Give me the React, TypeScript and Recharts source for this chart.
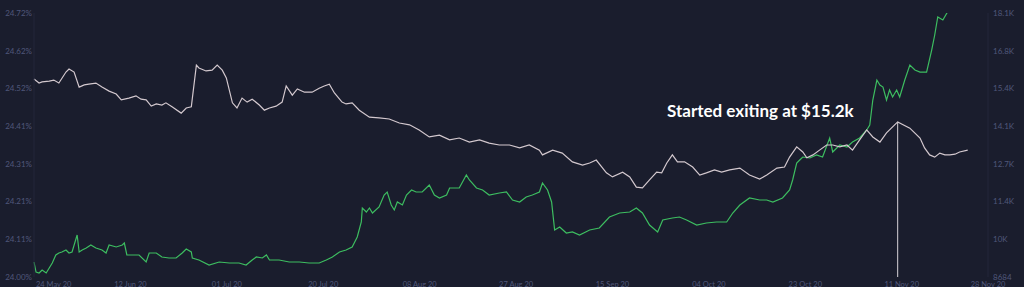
import React from "react";
import { LineChart, Line, XAxis, YAxis, ReferenceLine } from "recharts";

// x values: days since 24 May 2020
const xTickDays = [0, 19, 38, 57, 76, 95, 114, 133, 152, 171, 188];
const xTickLabels = ["24 May 20", "12 Jun 20", "01 Jul 20", "20 Jul 20", "08 Aug 20", "27 Aug 20", "15 Sep 20", "04 Oct 20", "23 Oct 20", "11 Nov 20", "28 Nov 20"];

const leftTickLabels = ["24.00%", "24.11%", "24.21%", "24.31%", "24.41%", "24.52%", "24.62%", "24.72%"];
const leftMin = 24.0;
const leftMax = 24.72;
const rightTickLabels = ["8684", "10K", "11.4K", "12.7K", "14.1K", "15.4K", "16.8K", "18.1K"];
const rightMin = 8684;
const rightMax = 18099;

// BTC price (green, right axis)
const priceDays = [0, 0.4, 1.0, 1.6, 2.4, 3.0, 3.6, 4.3, 4.9, 5.5, 6.3, 6.9, 7.5, 8.5, 8.9, 9.5, 10.3, 11.2, 12.2, 13.4, 14.2, 14.8, 16.2, 17.4, 17.8, 18.3, 19.3, 20.7, 22.1, 22.7, 24.1, 25.2, 26.6, 28.0, 29.2, 30.0, 31.0, 31.2, 32.5, 34.5, 36.5, 38.5, 40.4, 41.8, 43.0, 43.8, 45.0, 45.8, 46.4, 48.3, 50.3, 52.3, 54.2, 56.2, 57.6, 58.8, 60.2, 61.5, 62.7, 63.7, 64.5, 64.7, 65.5, 66.1, 66.7, 68.0, 69.0, 69.6, 70.4, 71.0, 71.6, 72.6, 73.4, 74.4, 75.3, 76.5, 77.9, 78.9, 79.9, 81.3, 81.9, 83.8, 85.2, 85.8, 87.2, 88.4, 89.7, 91.7, 93.1, 94.3, 95.7, 97.0, 98.2, 99.6, 100.2, 101.2, 102.0, 102.6, 103.6, 104.9, 106.1, 107.5, 109.5, 111.4, 113.4, 115.4, 117.4, 118.7, 119.9, 121.3, 122.9, 123.9, 125.8, 127.2, 128.6, 130.6, 132.5, 134.5, 136.5, 137.7, 139.1, 141.0, 143.0, 144.4, 145.6, 147.5, 148.9, 149.5, 150.3, 150.9, 151.5, 152.9, 154.2, 155.4, 156.8, 157.4, 158.8, 160.2, 161.3, 162.7, 164.1, 164.7, 165.3, 166.1, 166.7, 167.3, 168.0, 168.6, 169.2, 170.0, 170.6, 171.6, 172.6, 173.6, 174.6, 175.9, 176.9, 177.5, 178.1, 179.1, 179.9, 180.5, 181.5, 182.4, 183.0, 183.8, 184.4];
const priceValues = [9219, 8862, 8827, 8934, 8827, 9005, 9183, 9469, 9540, 9576, 9647, 9540, 9576, 10182, 9576, 9647, 9718, 9825, 9718, 9647, 9540, 9825, 9754, 9825, 9896, 9469, 9469, 9469, 9219, 9540, 9540, 9397, 9362, 9362, 9540, 9682, 9576, 9362, 9290, 9112, 9219, 9183, 9183, 9112, 9290, 9397, 9362, 9469, 9290, 9290, 9219, 9219, 9183, 9183, 9290, 9397, 9576, 9647, 9754, 10110, 10645, 11145, 11002, 11145, 10966, 11180, 11608, 11715, 11252, 11073, 11359, 11252, 11608, 11786, 11715, 11715, 11965, 11608, 11501, 11608, 11858, 11858, 12321, 12143, 11858, 11786, 11608, 11679, 11715, 11430, 11359, 11537, 11608, 11715, 12036, 11786, 11359, 10360, 10467, 10253, 10289, 10182, 10360, 10431, 10824, 10966, 11002, 11145, 10966, 10538, 10289, 10717, 10788, 10824, 10717, 10538, 10610, 10645, 10645, 10966, 11252, 11501, 11430, 11430, 11359, 11501, 11786, 12143, 12749, 12856, 12963, 12928, 13035, 12963, 13641, 13142, 13391, 13320, 13498, 13641, 13926, 14104, 14996, 15709, 15531, 15459, 14996, 15352, 15103, 15352, 15103, 15709, 16244, 16066, 15994, 15994, 16779, 17314, 17956, 17849, 18098, 18740, 18918, 18669, 18312, 18277, 18455];

// Share held (white, left axis)
const shareDays = [0, 1.0, 1.6, 3.0, 3.9, 4.9, 6.3, 6.9, 7.9, 8.9, 9.9, 10.8, 12.2, 13.4, 14.8, 16.2, 17.2, 18.7, 20.1, 21.1, 22.1, 23.1, 24.1, 25.2, 26.0, 27.2, 29.0, 30.0, 31.0, 32.0, 32.5, 33.9, 35.1, 36.1, 37.1, 37.9, 39.1, 40.0, 41.0, 42.0, 43.0, 44.4, 45.4, 46.4, 47.7, 48.9, 49.7, 50.9, 51.9, 53.3, 54.8, 56.2, 57.2, 58.2, 59.2, 60.7, 61.5, 62.7, 64.1, 66.1, 68.0, 70.0, 72.0, 74.0, 75.9, 77.9, 79.9, 81.9, 83.8, 85.8, 87.8, 89.7, 91.7, 93.7, 95.7, 97.6, 99.6, 100.2, 102.2, 104.1, 106.1, 108.1, 109.5, 110.8, 112.8, 114.0, 116.0, 117.4, 118.7, 119.9, 121.3, 122.7, 123.7, 124.7, 125.8, 126.8, 128.2, 129.8, 131.2, 132.5, 134.1, 135.5, 137.1, 139.1, 141.0, 143.0, 144.4, 146.4, 147.9, 148.9, 150.3, 151.5, 152.3, 153.5, 154.8, 156.2, 157.4, 158.8, 160.2, 161.3, 162.7, 164.1, 165.3, 166.7, 168.0, 170.2, 172.6, 174.6, 175.5, 176.5, 177.5, 178.5, 179.5, 180.5, 181.5, 182.4, 184.0];
const shareValues = [24.54, 24.529, 24.532, 24.534, 24.537, 24.529, 24.559, 24.567, 24.559, 24.518, 24.524, 24.526, 24.529, 24.518, 24.507, 24.499, 24.483, 24.488, 24.494, 24.485, 24.483, 24.466, 24.472, 24.469, 24.475, 24.464, 24.447, 24.461, 24.464, 24.578, 24.57, 24.562, 24.564, 24.578, 24.564, 24.543, 24.475, 24.461, 24.488, 24.477, 24.485, 24.469, 24.455, 24.461, 24.466, 24.477, 24.521, 24.496, 24.513, 24.504, 24.504, 24.515, 24.521, 24.526, 24.502, 24.477, 24.472, 24.475, 24.455, 24.436, 24.434, 24.431, 24.42, 24.415, 24.401, 24.382, 24.387, 24.374, 24.379, 24.368, 24.374, 24.365, 24.36, 24.36, 24.352, 24.36, 24.346, 24.333, 24.346, 24.338, 24.314, 24.305, 24.311, 24.319, 24.284, 24.273, 24.286, 24.273, 24.245, 24.243, 24.265, 24.286, 24.284, 24.311, 24.333, 24.314, 24.314, 24.3, 24.278, 24.284, 24.292, 24.286, 24.292, 24.297, 24.278, 24.267, 24.278, 24.297, 24.3, 24.327, 24.355, 24.341, 24.325, 24.333, 24.346, 24.36, 24.36, 24.355, 24.36, 24.346, 24.374, 24.401, 24.382, 24.368, 24.393, 24.423, 24.406, 24.379, 24.352, 24.333, 24.327, 24.338, 24.333, 24.333, 24.335, 24.341, 24.346];

const exitDay = 170.2;
const exitShare = 24.423;
const annotationText = "Started exiting at $15.2k";

const priceData = priceDays.map((d, i) => ({ day: d, price: priceValues[i] }));
const shareData = shareDays.map((d, i) => ({ day: d, share: shareValues[i] }));

const leftTicks = leftTickLabels.map((_, i) => leftMin + ((leftMax - leftMin) * i) / (leftTickLabels.length - 1));
const rightTicks = rightTickLabels.map((_, i) => rightMin + ((rightMax - rightMin) * i) / (rightTickLabels.length - 1));

const BG = "#1a1d2d";
const TICK = "#50577a";
const FONT = "Lato, 'Noto Sans', sans-serif";

const XTick = (props: any) => {
  const { x, y, payload, index } = props;
  const i = xTickDays.indexOf(payload.value);
  const anchor = index === 0 ? "start" : "middle";
  return (
    <text x={index === 0 ? x + 2 : x} y={y + 7.5} textAnchor={anchor} fill={TICK} fontSize={7.5} fontFamily={FONT}>
      {xTickLabels[i]}
    </text>
  );
};

export default function App() {
  return (
    <div style={{ position: "fixed", left: 0, top: 0, width: 1024, height: 287, background: BG, overflow: "hidden" }}>
      <LineChart width={1024} height={287} margin={{ top: 13, right: 0, bottom: 0, left: 0 }}>
        <XAxis
          dataKey="day"
          type="number"
          domain={[0, 188]}
          ticks={xTickDays}
          height={10}
          tickLine={false}
          axisLine={false}
          tickSize={0}
          tick={<XTick />}
          interval={0}
        />
        <YAxis
          yAxisId="left"
          orientation="left"
          width={34}
          domain={[leftMin, leftMax]}
          ticks={leftTicks}
          interval={0}
          tickFormatter={(v: number, i: number) => leftTickLabels[i]}
          tickLine={false}
          tickSize={0}
          tickMargin={2}
          axisLine={{ stroke: "#23273a" }}
          tick={{ fill: TICK, fontSize: 8, fontFamily: FONT }}
        />
        <YAxis
          yAxisId="right"
          orientation="right"
          width={36}
          domain={[rightMin, rightMax]}
          allowDataOverflow
          ticks={rightTicks}
          interval={0}
          tickFormatter={(v: number, i: number) => rightTickLabels[i]}
          tickLine={false}
          tickSize={0}
          tickMargin={5}
          axisLine={{ stroke: "#23273a" }}
          tick={{ fill: TICK, fontSize: 8, fontFamily: FONT, textAnchor: "start" }}
        />
        <ReferenceLine
          yAxisId="left"
          segment={[{ x: exitDay, y: exitShare }, { x: exitDay, y: leftMin }]}
          stroke="#d6d2d8"
          strokeWidth={1}
        />
        <Line
          yAxisId="right"
          data={priceData}
          dataKey="price"
          type="linear"
          stroke="#3dbd60"
          strokeWidth={1.2}
          dot={false}
          isAnimationActive={false}
        />
        <Line
          yAxisId="left"
          data={shareData}
          dataKey="share"
          type="linear"
          stroke="#d3c8ce"
          strokeWidth={1.2}
          dot={false}
          isAnimationActive={false}
        />
      </LineChart>
      <svg width={1024} height={287} style={{ position: "absolute", left: 0, top: 0, pointerEvents: "none" }}>
        <text x={667} y={116.5} fill="#ffffff" fontSize={17} fontWeight={700} fontFamily={FONT}>
          {annotationText}
        </text>
      </svg>
    </div>
  );
}
